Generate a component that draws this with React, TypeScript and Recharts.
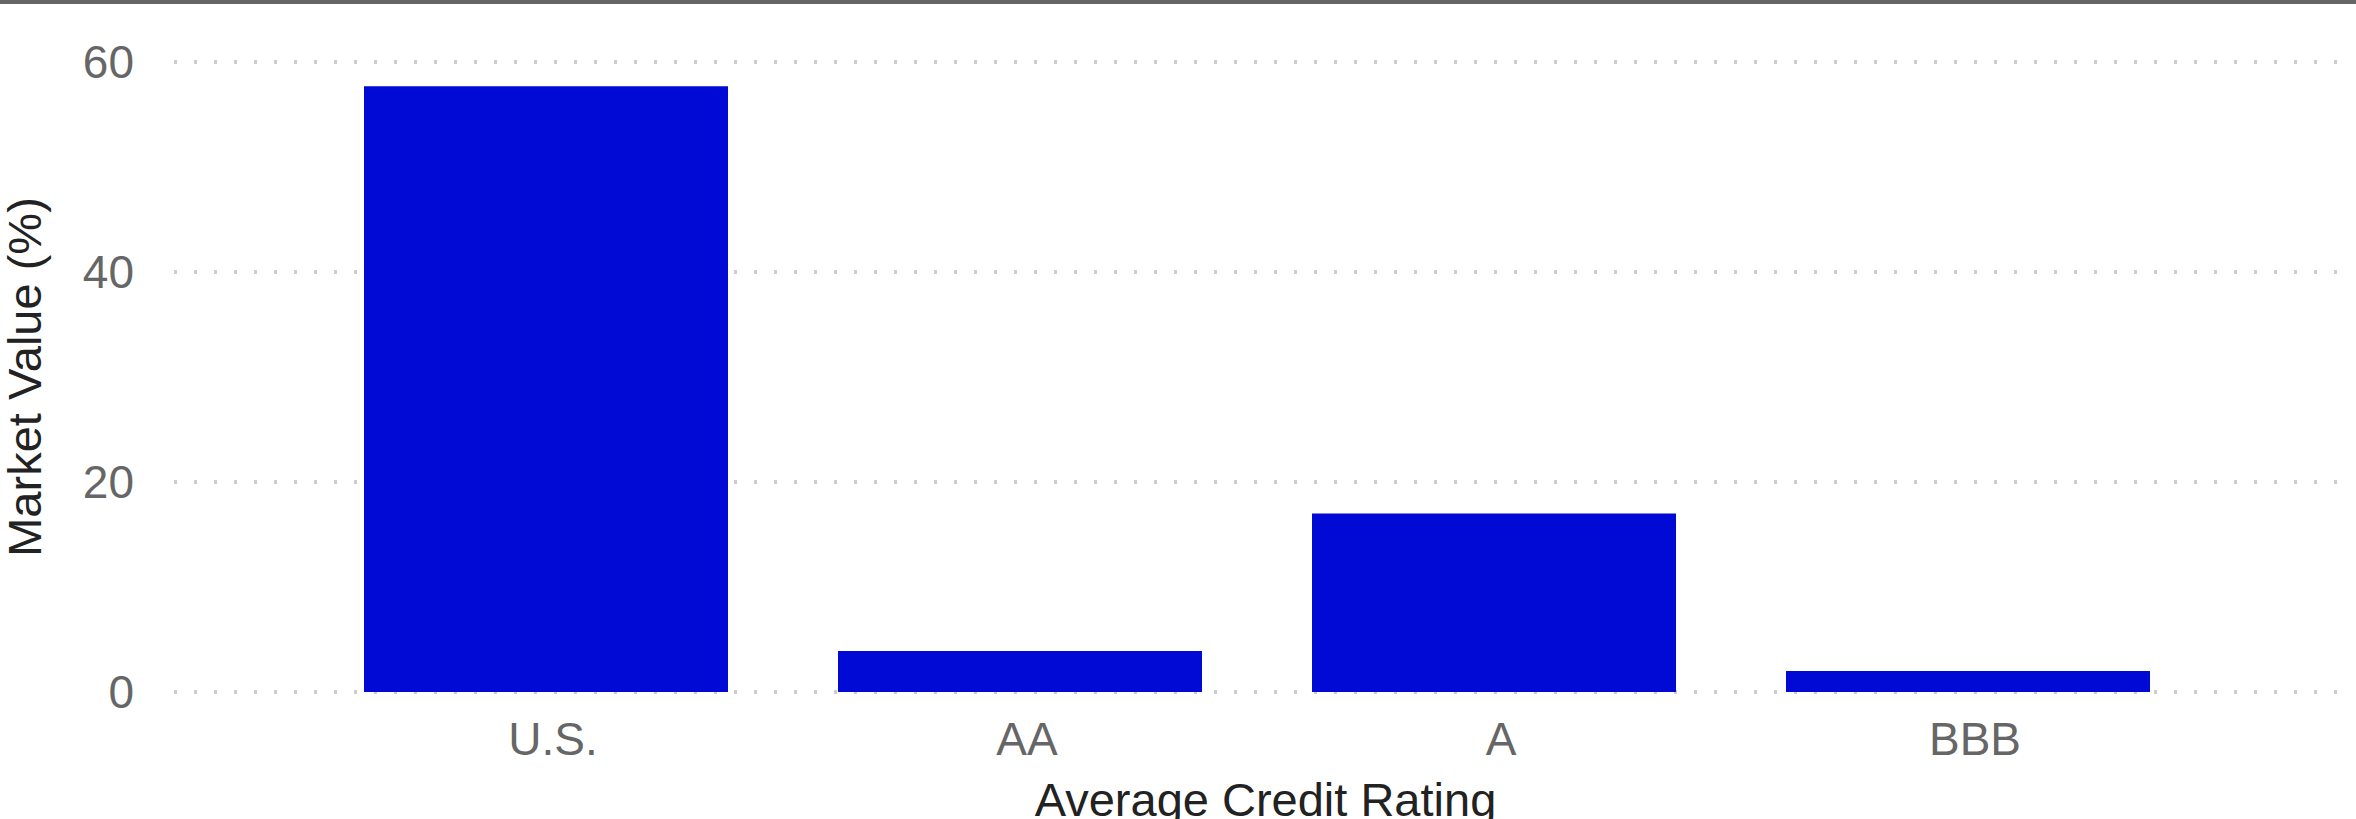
import { Bar, BarChart, CartesianGrid, Label, XAxis, YAxis } from "recharts";

const ratings = ["U.S.", "AA", "A", "BBB"];
const marketValue = [57.7, 3.9, 17.0, 2.0];
const yTicks = [0, 20, 40, 60];

const FONT = "'Liberation Sans', Arial, Helvetica, sans-serif";

const data = ratings.map((rating, i) => ({ rating, value: marketValue[i] }));

export default function App() {
  return (
    <div style={{ width: 2356, borderTop: "4px solid #666666", fontFamily: FONT }}>
      <style>{"body{margin:0}"}</style>
      <BarChart
        width={2356}
        height={815}
        data={data}
        margin={{ top: 58, right: 19, bottom: 0, left: 0 }}
        barCategoryGap={55}
      >
        <CartesianGrid
          vertical={false}
          stroke="#cccccc"
          strokeWidth={4}
          strokeDasharray="3 17"
        />
        <XAxis
          dataKey="rating"
          height={127}
          axisLine={false}
          tickLine={false}
          tickSize={0}
          tickMargin={30}
          padding={{ left: 135, right: 132 }}
          tick={{ fill: "#666666", fontSize: 46, fontFamily: FONT, dx: 7 }}
        >
          <Label
            content={({ viewBox }: any) => (
              <text
                x={viewBox.x + viewBox.width / 2 + 10}
                y={viewBox.y + 124}
                textAnchor="middle"
                fill="#222222"
                fontSize={47}
                fontFamily={FONT}
              >
                Average Credit Rating
              </text>
            )}
          />
        </XAxis>
        <YAxis
          width={174}
          domain={[0, 60]}
          ticks={yTicks}
          axisLine={false}
          tickLine={false}
          tickSize={0}
          tickMargin={40}
          tick={{ fill: "#666666", fontSize: 46, fontFamily: FONT }}
        >
          <Label
            content={({ viewBox }: any) => {
              const cy = viewBox.y + viewBox.height / 2;
              return (
                <text
                  x={41}
                  y={cy}
                  transform={`rotate(-90, 41, ${cy})`}
                  textAnchor="middle"
                  fill="#222222"
                  fontSize={47}
                  fontFamily={FONT}
                >
                  Market Value (%)
                </text>
              );
            }}
          />
        </YAxis>
        <Bar dataKey="value" fill="#000AD4" isAnimationActive={false} />
      </BarChart>
    </div>
  );
}
